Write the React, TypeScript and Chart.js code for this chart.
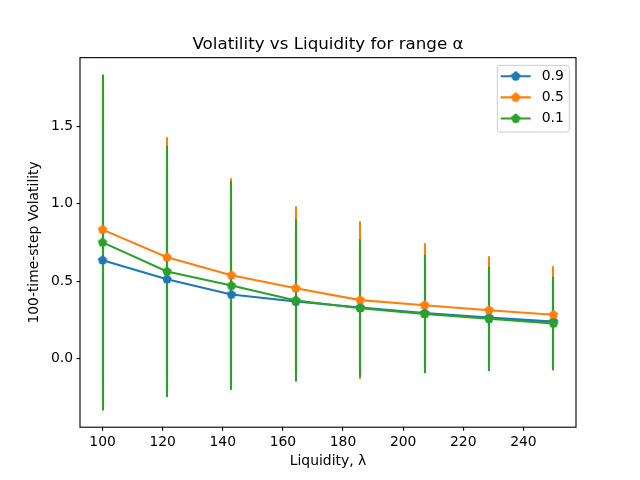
import { useEffect, useRef } from "react"
import { Chart, registerables } from "chart.js"

Chart.register(...registerables)

// liquidity values (x) for each run
const liquidity = [100, 121.43, 142.86, 164.29, 185.71, 207.14, 228.57, 250]

// legend labels (alpha)
const alphaLabels = ["0.9", "0.5", "0.1"]
const colors = ["#1f77b4", "#ff7f0e", "#2ca02c"]

// mean volatility per alpha
const vol09 = [0.635, 0.512, 0.413, 0.368, 0.329, 0.293, 0.264, 0.238]
const vol05 = [0.833, 0.654, 0.538, 0.454, 0.377, 0.344, 0.312, 0.282]
const vol01 = [0.75, 0.562, 0.471, 0.375, 0.325, 0.288, 0.256, 0.226]

// error (std) per alpha
const err09 = [0.9, 0.7, 0.58, 0.45, 0.38, 0.33, 0.29, 0.26]
const err05 = [0.98, 0.776, 0.627, 0.53, 0.51, 0.401, 0.349, 0.314]
const err01 = [1.086, 0.812, 0.674, 0.525, 0.446, 0.382, 0.338, 0.303]

const xTicks = [100, 120, 140, 160, 180, 200, 220, 240]
const yTicks = [0.0, 0.5, 1.0, 1.5]

const means = [vol09, vol05, vol01]
const errs = [err09, err05, err01]

const FONT = "DejaVu Sans"
const LW = 2.08

function pentagon(color: string) {
  const c = document.createElement("canvas")
  c.width = 12
  c.height = 12
  const ctx = c.getContext("2d")!
  ctx.beginPath()
  for (let k = 0; k < 5; k++) {
    const a = -Math.PI / 2 + (k * 2 * Math.PI) / 5
    const px = 6 + 4.17 * Math.cos(a)
    const py = 6 + 4.17 * Math.sin(a)
    if (k === 0) ctx.moveTo(px, py)
    else ctx.lineTo(px, py)
  }
  ctx.closePath()
  ctx.fillStyle = color
  ctx.fill()
  ctx.strokeStyle = color
  ctx.lineWidth = 1.39
  ctx.stroke()
  return c
}

export default function App() {
  const chartRef = useRef<HTMLCanvasElement>(null)
  const chartInstance = useRef<Chart | null>(null)

  useEffect(() => {
    document.body.style.margin = "0"
    if (!chartRef.current) return
    if (chartInstance.current) chartInstance.current.destroy()
    const ctx = chartRef.current.getContext("2d")
    if (!ctx) return

    const markers = colors.map((c) => pentagon(c))

    // autoscale like matplotlib: data limits plus 5% margins
    const tops = means.flatMap((m, i) => m.map((v, j) => v + errs[i][j]))
    const bots = means.flatMap((m, i) => m.map((v, j) => v - errs[i][j]))
    const yHi = Math.max(...tops)
    const yLo = Math.min(...bots)
    const yPad = (yHi - yLo) * 0.05
    const xPad = (liquidity[liquidity.length - 1] - liquidity[0]) * 0.05

    const errorBars = {
      id: "errorBars",
      beforeDatasetsDraw(chart: any) {
        const { ctx, scales } = chart
        ctx.save()
        ctx.lineWidth = LW
        means.forEach((m, i) => {
          ctx.strokeStyle = colors[i]
          m.forEach((v, j) => {
            const px = Math.round(scales.x.getPixelForValue(liquidity[j]))
            ctx.beginPath()
            ctx.moveTo(px, scales.y.getPixelForValue(v - errs[i][j]))
            ctx.lineTo(px, scales.y.getPixelForValue(v + errs[i][j]))
            ctx.stroke()
          })
        })
        ctx.restore()
      },
    }

    const frameAndLegend = {
      id: "frameAndLegend",
      afterDraw(chart: any) {
        const { ctx, chartArea } = chart
        ctx.save()
        ctx.strokeStyle = "#000"
        ctx.lineWidth = 1.11
        ctx.strokeRect(chartArea.left, chartArea.top, chartArea.right - chartArea.left, chartArea.bottom - chartArea.top)

        // legend, upper right
        const bx = chartArea.right - 78.7
        const by = chartArea.top + 7.7
        ctx.beginPath()
        ctx.roundRect(bx, by, 72, 66.7, 2.8)
        ctx.fillStyle = "rgba(255,255,255,0.8)"
        ctx.fill()
        ctx.strokeStyle = "#cccccc"
        ctx.lineWidth = 1
        ctx.stroke()
        alphaLabels.forEach((label, i) => {
          const cy = by + 10.9 + i * 21.1
          ctx.strokeStyle = colors[i]
          ctx.lineWidth = LW
          ctx.beginPath()
          ctx.moveTo(bx + 3.4, cy)
          ctx.lineTo(bx + 33.4, cy)
          ctx.moveTo(bx + 18.4, cy - 4.5)
          ctx.lineTo(bx + 18.4, cy + 4.5)
          ctx.stroke()
          ctx.drawImage(markers[i], bx + 18.4 - 6, cy - 6)
          ctx.fillStyle = "#000"
          ctx.font = `13.9px '${FONT}'`
          ctx.textBaseline = "middle"
          ctx.textAlign = "left"
          ctx.fillText(label, bx + 44.4, cy + 0.4)
        })
        ctx.restore()
      },
    }

    chartInstance.current = new Chart(ctx, {
      type: "line",
      data: {
        datasets: means.map((m, i) => ({
          label: alphaLabels[i],
          data: liquidity.map((x, j) => ({ x, y: m[j] })),
          borderColor: colors[i],
          backgroundColor: colors[i],
          borderWidth: LW,
          tension: 0,
          pointStyle: markers[i],
          pointRadius: 5,
          order: 2 - i,
        })),
      },
      options: {
        animation: false,
        responsive: true,
        maintainAspectRatio: false,
        events: [],
        layout: { padding: { right: 64 } },
        plugins: {
          legend: { display: false },
          tooltip: { enabled: false },
          title: {
            display: true,
            fullSize: false,
            text: "Volatility vs Liquidity for range α",
            color: "#000",
            font: { family: FONT, size: 16.7, weight: "normal" },
            padding: { top: 34.3, bottom: 3.3 },
          },
        },
        scales: {
          x: {
            type: "linear",
            min: liquidity[0] - xPad,
            max: liquidity[liquidity.length - 1] + xPad,
            afterBuildTicks: (scale: any) => {
              scale.ticks = xTicks.map((v) => ({ value: v }))
            },
            afterFit: (scale: any) => {
              scale.height = 52.8
            },
            border: { display: false },
            grid: { drawOnChartArea: false, drawTicks: true, tickLength: 3.5, color: "#000", lineWidth: 1.11 },
            ticks: {
              color: "#000",
              font: { family: FONT, size: 13.9 },
              padding: 3.5,
              maxRotation: 0,
              callback: (v: any) => String(v),
            },
            title: {
              display: true,
              text: "Liquidity, λ",
              color: "#000",
              font: { family: FONT, size: 13.9 },
              padding: { top: 0, bottom: 10.7 },
            },
          },
          y: {
            type: "linear",
            min: yLo - yPad,
            max: yHi + yPad,
            afterBuildTicks: (scale: any) => {
              scale.ticks = yTicks.map((v) => ({ value: v }))
            },
            afterFit: (scale: any) => {
              scale.width = 80
            },
            border: { display: false },
            grid: { drawOnChartArea: false, drawTicks: true, tickLength: 3.5, color: "#000", lineWidth: 1.11 },
            ticks: {
              color: "#000",
              font: { family: FONT, size: 13.9 },
              padding: 3.5,
              callback: (v: any) => Number(v).toFixed(1),
            },
            title: {
              display: true,
              text: "100-time-step Volatility",
              color: "#000",
              font: { family: FONT, size: 13.9 },
              padding: { top: 26.2, bottom: 0 },
            },
          },
        },
      },
      plugins: [errorBars, frameAndLegend],
    })

    return () => {
      if (chartInstance.current) {
        chartInstance.current.destroy()
        chartInstance.current = null
      }
    }
  }, [])

  return (
    <div style={{ width: 640, height: 480, position: "relative" }}>
      <canvas ref={chartRef}></canvas>
    </div>
  )
}
